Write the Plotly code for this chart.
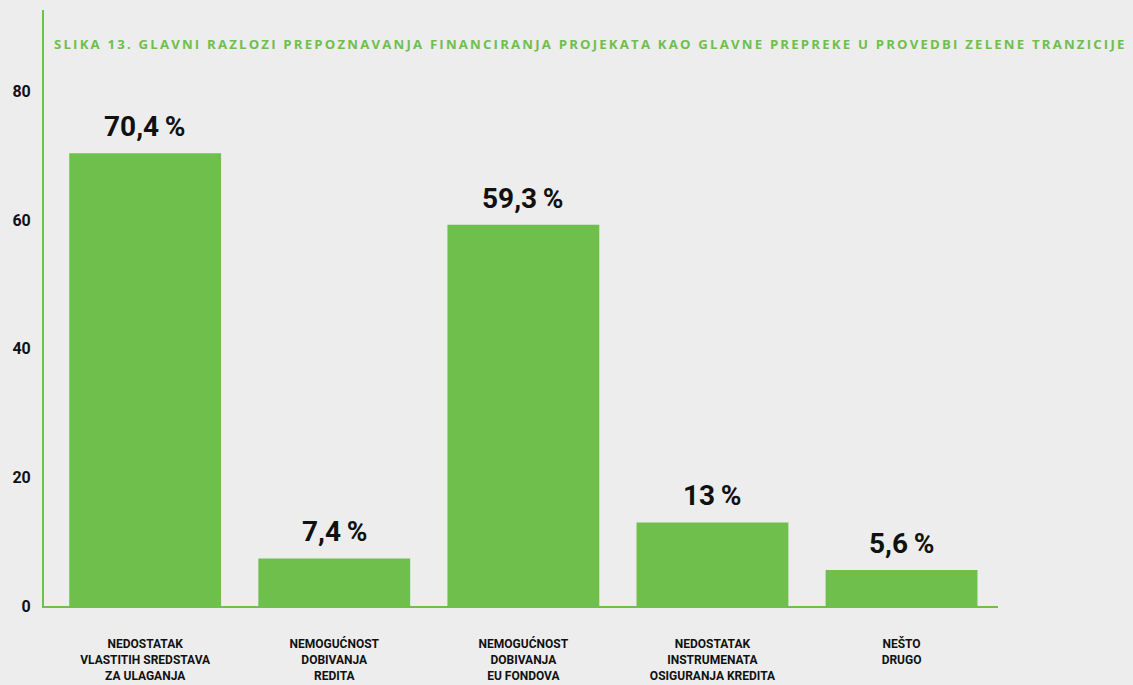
import plotly.graph_objects as go

categories = [
    "NEDOSTATAK<br>VLASTITIH SREDSTAVA<br>ZA ULAGANJA",
    "NEMOGUĆNOST<br>DOBIVANJA<br>REDITA",
    "NEMOGUĆNOST<br>DOBIVANJA<br>EU FONDOVA",
    "NEDOSTATAK<br>INSTRUMENATA<br>OSIGURANJA KREDITA",
    "NEŠTO<br>DRUGO",
]
values = [70.4, 7.4, 59.3, 13, 5.6]
y_ticks = [0, 20, 40, 60, 80]
title_text = "SLIKA 13. GLAVNI RAZLOZI PREPOZNAVANJA FINANCIRANJA PROJEKATA KAO GLAVNE PREPREKE U PROVEDBI ZELENE TRANZICIJE"

GREEN = "rgb(110,191,75)"
BG = "#ededed"

def fmt(v):
    s = ("%g" % v).replace(".", ",")
    return s + "\u2009%"

labels = [fmt(v) for v in values]
x_idx = list(range(len(categories)))

fig = go.Figure()
fig.add_trace(go.Bar(
    x=x_idx, y=values, marker=dict(color=GREEN, line=dict(width=0)),
    width=0.803, hoverinfo="skip",
))

for i, (v, lab) in enumerate(zip(values, labels)):
    fig.add_annotation(x=i, y=v, text="<b>" + lab + "</b>", showarrow=False,
                       yanchor="bottom", yshift=8,
                       font=dict(family="Roboto", size=28, color="#111111"))

spaced_title = "\u2009".join(title_text)
fig.add_annotation(xref="paper", yref="paper", x=0.008, y=0.943, xanchor="left", yanchor="middle",
                   text="<b>" + spaced_title + "</b>", showarrow=False,
                   font=dict(family="Open Sans", size=13.2, color=GREEN))

fig.update_layout(
    width=1133, height=685,
    margin=dict(l=44, r=135, t=10, b=79, autoexpand=False),
    paper_bgcolor=BG, plot_bgcolor=BG,
    showlegend=False,
    bargap=0.2,
)
fig.update_xaxes(
    range=[-0.535, 4.51], tickvals=x_idx, ticktext=["<b>%s</b>" % c for c in categories],
    showgrid=False, zeroline=False, showline=True, linecolor=GREEN, linewidth=2,
    ticks="outside", ticklen=26, tickcolor="rgba(0,0,0,0)",
    tickfont=dict(family="Roboto", size=12, color="#111111"),
    automargin=False, fixedrange=True,
)
fig.update_yaxes(
    range=[0, 92.7], tickvals=y_ticks, ticktext=["<b>%d</b>" % t for t in y_ticks],
    showgrid=False, zeroline=False, showline=True, linecolor=GREEN, linewidth=2,
    ticks="outside", ticklen=8, tickcolor="rgba(0,0,0,0)",
    tickfont=dict(family="Roboto", size=16, color="#111111"),
    automargin=False, fixedrange=True,
)

fig.write_html("out.html", config={"displayModeBar": False},
               post_script="document.body.style.margin='0';document.body.style.background='#ededed';")
